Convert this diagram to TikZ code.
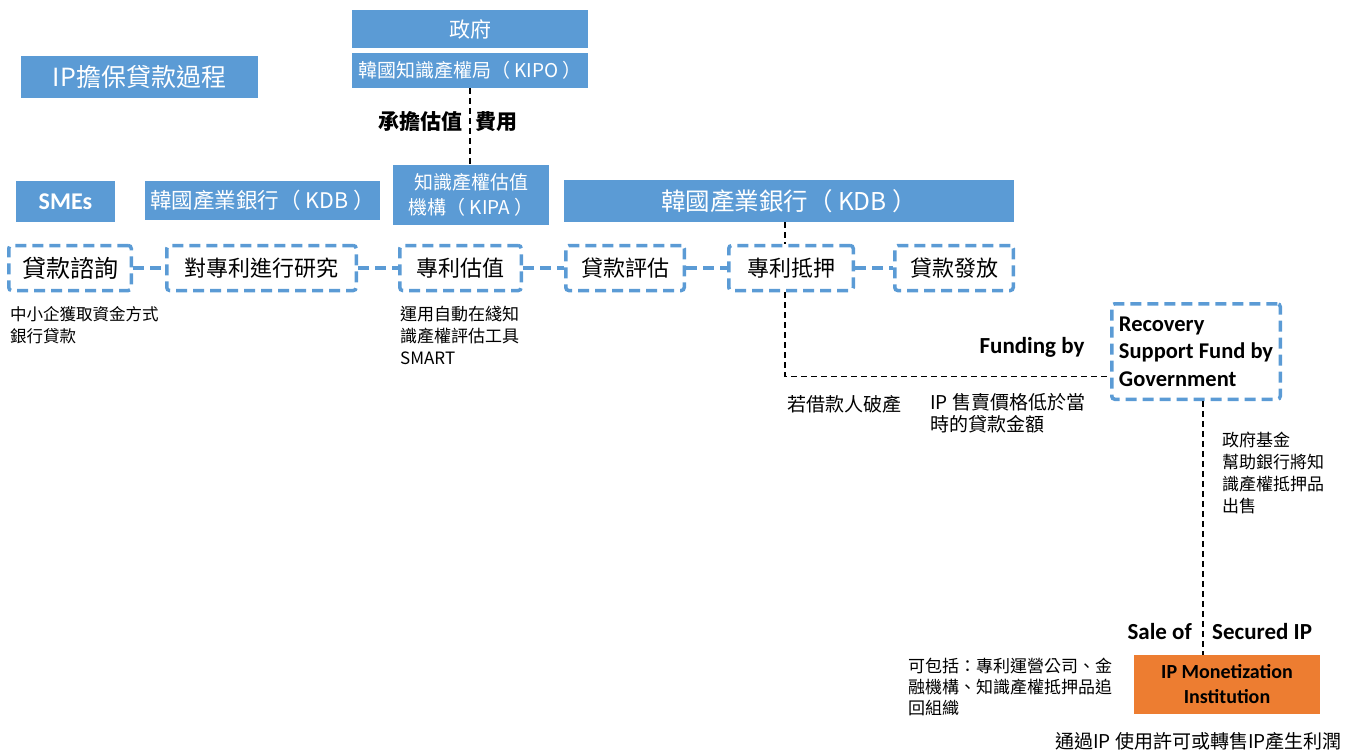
\documentclass[tikz,border=0pt]{standalone}
\usepackage{fontspec}
\setmainfont{Noto Sans CJK TC}
\newfontfamily\latinfont{Carlito}
\usepackage{tikz}
\usetikzlibrary{arrows,positioning}
\definecolor{boxblue}{RGB}{91,155,213}
\definecolor{boxorange}{RGB}{237,125,49}

\begin{document}
\begin{tikzpicture}[x=1pt,y=-1pt,
  blue node/.style={rectangle,fill=boxblue,text=white,inner sep=0pt,align=center},
  stage node/.style={rectangle,draw=boxblue,line width=3.5pt,dash pattern=on 11pt off 6pt,
    rounded corners=3pt,inner sep=0pt,minimum height=45pt,font=\fontsize{22}{26}\selectfont},
  note/.style={inner sep=0pt,align=left,anchor=north west},
  tag/.style={inner sep=0pt,font=\bfseries\fontsize{21}{25}\selectfont},
  latin tag/.style={inner sep=0pt,font=\latinfont\bfseries\fontsize{23}{27}\selectfont},
  link/.style={draw=boxblue,line width=3.5pt,dash pattern=on 11pt off 6pt},
  money/.style={draw=black,line width=1.5pt,dash pattern=on 6pt off 4pt}]
  \useasboundingbox (0,0) rectangle (1365,754);

  \node[blue node,minimum width=237pt,minimum height=42pt,font=\fontsize{25}{29}\selectfont] (title) at (139.5,77) {IP擔保貸款過程};
  \node[blue node,minimum width=236pt,minimum height=38pt,font=\fontsize{21}{25}\selectfont] (gov) at (470,29) {政府};
  \node[blue node,minimum width=236pt,minimum height=35pt,font=\fontsize{19}{23}\selectfont] (kipo) at (470,70.5) {韓國知識產權局（ KIPO ）};
  \node[blue node,minimum width=99pt,minimum height=41pt,font=\latinfont\bfseries\fontsize{24}{28}\selectfont] (smes) at (65.5,201.5) {SMEs};
  \node[blue node,minimum width=235pt,minimum height=39pt,font=\fontsize{21.5}{25}\selectfont] (kdb1) at (262.5,200.5) {韓國產業銀行（ KDB ）};
  \node[blue node,minimum width=156pt,minimum height=60pt,font=\fontsize{19}{25}\selectfont] (kipa) at (471,195) {知識產權估值\\機構（ KIPA ）};
  \node[blue node,minimum width=450pt,minimum height=42pt,font=\fontsize{24.5}{28}\selectfont] (kdb2) at (789,201) {韓國產業銀行（ KDB ）};

  \node[stage node,minimum width=122.5pt,font=\fontsize{24}{28}\selectfont] (1) at (70,268) {貸款諮詢};
  \node[stage node,minimum width=189.5pt] (2) [right=32pt of 1] {對專利進行研究};
  \node[stage node,minimum width=121.5pt] (3) [right=40pt of 2] {專利估值};
  \node[stage node,minimum width=118.5pt] (4) [right=41pt of 3] {貸款評估};
  \node[stage node,minimum width=124.5pt] (5) [right=41pt of 4] {專利抵押};
  \node[stage node,minimum width=118.5pt] (6) [right=38pt of 5] {貸款發放};

  \node[stage node,minimum width=168.5pt,minimum height=95.5pt,align=left,
    font=\latinfont\bfseries\fontsize{22.5}{27.5}\selectfont] (rsf) at (1196,351.5) {Recovery\\Support Fund by\\Government};
  \node[blue node,fill=boxorange,text=black,minimum width=186pt,minimum height=59pt,
    font=\latinfont\bfseries\fontsize{20}{25}\selectfont] (ipm) at (1227,684.5) {IP Monetization\\Institution};

  \path[link]
    (1) edge (2)
    (2) edge (3)
    (3) edge (4)
    (4) edge (5)
    (5) edge (6);

  \path (5.north) ++(-6,0) coordinate (pledge);
  \path (5.south -| pledge) ++(0,84) coordinate (turn);
  \path (rsf.south) ++(7,0) coordinate (drop);
  \draw[money] (kipo.south) -- (kipo.south |- kipa.north);
  \draw[money] (pledge |- kdb2.south) -- (pledge);
  \draw[money] (5.south -| pledge) -- (turn) -- (turn -| rsf.west);
  \draw[money] (drop) -- (drop |- ipm.north);

  \node[tag,anchor=east] (bear) at (463,122) {承擔估值};
  \node[tag,anchor=west] (fee) at (475,122) {費用};
  \node[latin tag] (fund) at (1032,347) {Funding by};
  \node[latin tag,anchor=east] (sale) at (1192,632) {Sale of};
  \node[latin tag,anchor=west] (secured) at (1212,632) {Secured IP};

  \node[note,font=\fontsize{16.5}{22}\selectfont] (smesnote) at (10,306) {中小企獲取資金方式\\銀行貸款};
  \node[note,font=\fontsize{17}{22}\selectfont] (smartnote) at (400,306) {運用自動在綫知\\識產權評估工具\\SMART};
  \node[note,anchor=west,font=\fontsize{19}{22}\selectfont] (bankrupt) at (787,404) {若借款人破產};
  \node[note,font=\fontsize{19}{22}\selectfont] (lower) at (930,393) {IP 售賣價格低於當\\時的貸款金額};
  \node[note,font=\fontsize{17}{22}\selectfont] (fundnote) at (1222,432) {政府基金\\幫助銀行將知\\識產權抵押品\\出售};
  \node[note,font=\fontsize{17}{21}\selectfont] (incl) at (908,658) {可包括：專利運營公司、金\\融機構、知識產權抵押品追\\回組織};
  \node[note,anchor=west,font=\fontsize{19}{22}\selectfont] (profit) at (1055,741) {通過IP 使用許可或轉售IP產生利潤};
\end{tikzpicture}
\end{document}
